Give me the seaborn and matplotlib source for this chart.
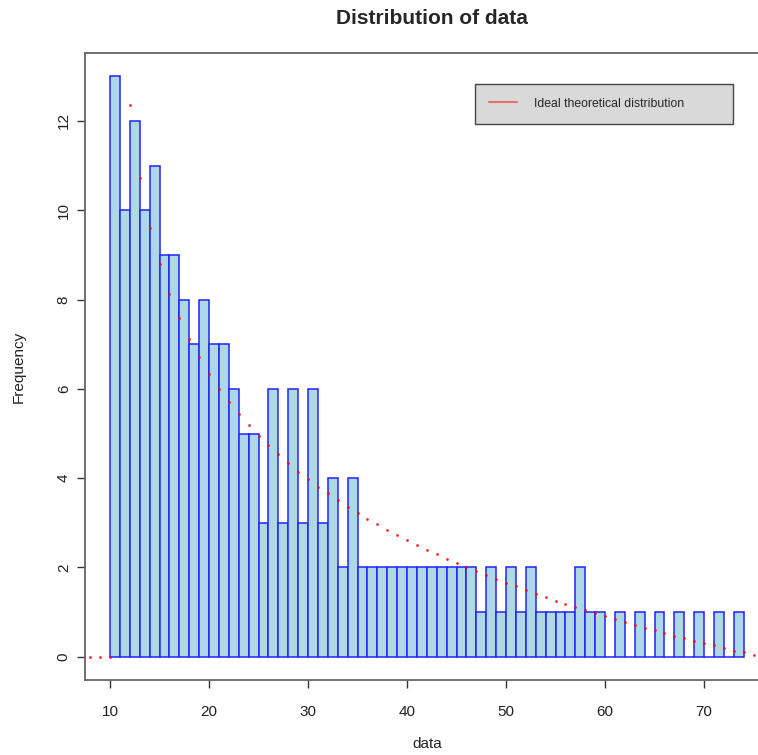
import numpy as np
import seaborn as sns
import matplotlib.pyplot as plt
from matplotlib.lines import Line2D

# histogram bins (width 1, from 10 to 74) and their counts
bin_edges = list(range(10, 75))
counts = [13, 10, 12, 10, 11, 9, 9, 8, 7, 8, 7, 7, 6, 5, 5, 3, 6, 3, 6, 3, 6, 3, 4, 2, 4,
          2, 2, 2, 2, 2, 2, 2, 2, 2, 2, 2, 2,
          1, 2, 1, 2, 1, 2, 1, 1, 1, 1, 2, 1, 1,
          0, 1, 0, 1, 0, 1, 0, 1, 0, 1, 0, 1, 0, 1]

# theoretical curve
curve_x = [8, 9, 10] + list(range(12, 76))
curve_y = [0, 0, 0,
           12.35, 10.72, 9.60, 8.79, 8.13, 7.58, 7.11, 6.71, 6.34, 6.00,
           5.71, 5.43, 5.19, 4.95, 4.74, 4.53, 4.33, 4.14, 3.98, 3.81,
           3.66, 3.51, 3.36, 3.22, 3.09, 2.97, 2.85, 2.73, 2.61, 2.51,
           2.40, 2.30, 2.20, 2.10, 2.01, 1.92, 1.83, 1.74, 1.66, 1.58,
           1.50, 1.41, 1.34, 1.26, 1.19, 1.12, 1.05, 0.98, 0.91, 0.85,
           0.78, 0.72, 0.65, 0.59, 0.53, 0.47, 0.41, 0.36, 0.31, 0.26,
           0.20, 0.14, 0.10, 0.05]

x_ticks = [10, 20, 30, 40, 50, 60, 70]
y_ticks = [0, 2, 4, 6, 8, 10, 12]

sns.set_style("white")
plt.rcParams['font.family'] = ['Liberation Sans', 'DejaVu Sans']

fig = plt.figure(figsize=(7.58, 7.55), dpi=100)
ax = fig.add_axes([0.1117, 0.0993, 0.9028, 0.8305])

centers = [e + 0.5 for e in bin_edges[:-1]]
sns.histplot(x=centers, weights=counts, bins=bin_edges, ax=ax,
             color="#ADD8E6", edgecolor="#2222ff", linewidth=1.1, alpha=1.0)

sns.scatterplot(x=curve_x, y=curve_y, ax=ax, color="red", s=4,
                linewidth=0, alpha=0.85, zorder=5)

ax.set_xlim(7.44, 76.56)
ax.set_ylim(-0.52, 13.52)
ax.set_xticks(x_ticks)
ax.set_yticks(y_ticks)
ax.set_yticklabels([str(v) for v in y_ticks], rotation=90, va="center")

ax.tick_params(axis="both", length=6, width=1, color="#333333",
               labelsize=11, labelcolor="#222222", direction="out",
               bottom=True, left=True)
ax.tick_params(axis="x", pad=12)
ax.tick_params(axis="y", pad=4)

for sp in ax.spines.values():
    sp.set_color("#666666")
    sp.set_linewidth(1.3)

ax.set_title("Distribution of data", fontsize=15, fontweight="bold", pad=21,
             x=0.507)
ax.set_xlabel("data", fontsize=11, color="#222222", labelpad=13)
ax.set_ylabel("Frequency", fontsize=11, color="#222222", labelpad=22)

handle = Line2D([0], [0], color="red", alpha=0.5, lw=1.5)
leg = ax.legend([handle], ["Ideal theoretical distribution"],
                loc="center left", bbox_to_anchor=(0.570, 0.888, 0.377, 0.0622),
                mode="expand", borderaxespad=0, fontsize=8.8,
                frameon=True, fancybox=False, borderpad=1.15,
                handlelength=2.3, handletextpad=1.4)
frame = leg.get_frame()
frame.set_facecolor("#D9D9D9")
frame.set_edgecolor("#444444")
frame.set_linewidth(1.0)
frame.set_alpha(1.0)

fig.savefig("out.png", dpi=100)
